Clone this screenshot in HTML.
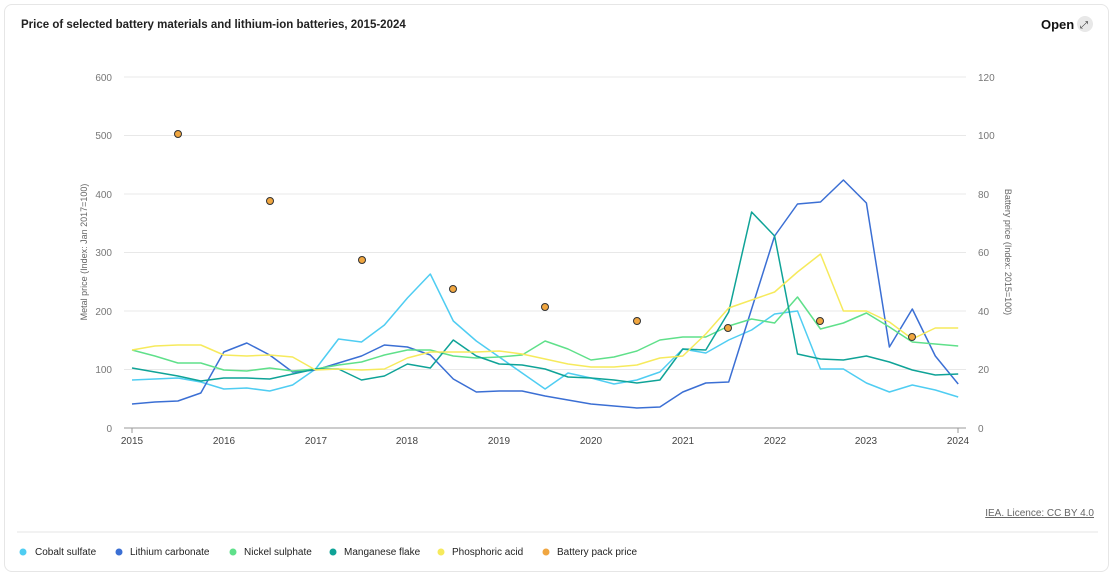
<!DOCTYPE html>
<html><head><style>
body{margin:0;background:#fff;font-family:"Liberation Sans",sans-serif;}
.card{position:absolute;left:4px;top:4px;width:1105px;height:568px;border:1px solid #e6e6e6;border-radius:8px;box-sizing:border-box;}
</style></head><body>
<div class="card"></div>
<svg width="1115" height="577" style="position:absolute;left:0;top:0" font-family="Liberation Sans, sans-serif">
<text x="21" y="28" font-size="11.5" fill="#222" font-weight="bold" style="font-weight:600">Price of selected battery materials and lithium-ion batteries, 2015-2024</text>
<text x="1041" y="29" font-size="13" font-weight="bold" fill="#111">Open</text>
<circle cx="1085" cy="24" r="8" fill="#e8e8e8"/><text x="1080" y="28" font-size="10" fill="#333">⤢</text>
<g stroke="#e8e8e8" stroke-width="1">
<line x1="124" x2="966" y1="77" y2="77"/><line x1="124" x2="966" y1="135.5" y2="135.5"/><line x1="124" x2="966" y1="194" y2="194"/><line x1="124" x2="966" y1="252.5" y2="252.5"/><line x1="124" x2="966" y1="311" y2="311"/><line x1="124" x2="966" y1="369.5" y2="369.5"/>
</g>
<line x1="124" x2="966" y1="428" y2="428" stroke="#999"/>
<g font-size="10" fill="#777" text-anchor="end">
<text x="112" y="81">600</text><text x="112" y="139">500</text><text x="112" y="198">400</text><text x="112" y="256">300</text><text x="112" y="315">200</text><text x="112" y="373">100</text><text x="112" y="432">0</text>
</g>
<g font-size="10" fill="#777">
<text x="978" y="81">120</text><text x="978" y="139">100</text><text x="978" y="198">80</text><text x="978" y="256">60</text><text x="978" y="315">40</text><text x="978" y="373">20</text><text x="978" y="432">0</text>
</g>
<g font-size="10" fill="#444" text-anchor="middle">
<text x="132" y="444">2015</text><text x="224" y="444">2016</text><text x="316" y="444">2017</text><text x="407" y="444">2018</text><text x="499" y="444">2019</text><text x="591" y="444">2020</text><text x="683" y="444">2021</text><text x="775" y="444">2022</text><text x="866" y="444">2023</text><text x="958" y="444">2024</text>
</g>
<g stroke="#999"><line x1="132" x2="132" y1="428" y2="433"/><line x1="958" x2="958" y1="428" y2="433"/></g>
<text transform="translate(87,252) rotate(-90)" font-size="9" fill="#666" text-anchor="middle">Metal price (Index: Jan 2017=100)</text>
<text transform="translate(1005,252) rotate(90)" font-size="9" fill="#666" text-anchor="middle">Battery price (Index: 2015=100)</text>
<g fill="none" stroke-width="1.5" stroke-linejoin="round">
<polyline id="co" stroke="#4fcdf2" points=""/>
<polyline id="li" stroke="#3b6fd4" points=""/>
<polyline id="ni" stroke="#5fe08a" points=""/>
<polyline id="mn" stroke="#0fa397" points=""/>
<polyline id="ph" stroke="#f6ea5c" points=""/>
</g>
<g fill="#f0a640" stroke="#333" stroke-width="1">
<circle cx="178" cy="134" r="3.5"/><circle cx="270" cy="201" r="3.5"/><circle cx="362" cy="260" r="3.5"/><circle cx="453" cy="289" r="3.5"/><circle cx="545" cy="307" r="3.5"/><circle cx="637" cy="321" r="3.5"/><circle cx="728" cy="328" r="3.5"/><circle cx="820" cy="321" r="3.5"/><circle cx="912" cy="337" r="3.5"/>
</g>
<text x="1094" y="516" font-size="10" fill="#666" text-anchor="end" text-decoration="underline">IEA. Licence: CC BY 4.0</text>
<line x1="17" x2="1098" y1="532" y2="532" stroke="#e6e6e6"/>
<g font-size="10" fill="#222">
<circle cx="23" cy="552" r="3.5" fill="#4fcdf2"/><text x="35" y="555">Cobalt sulfate</text>
<circle cx="119" cy="552" r="3.5" fill="#3b6fd4"/><text x="130" y="555">Lithium carbonate</text>
<circle cx="233" cy="552" r="3.5" fill="#5fe08a"/><text x="244" y="555">Nickel sulphate</text>
<circle cx="333" cy="552" r="3.5" fill="#0fa397"/><text x="344" y="555">Manganese flake</text>
<circle cx="441" cy="552" r="3.5" fill="#f6ea5c"/><text x="452" y="555">Phosphoric acid</text>
<circle cx="546" cy="552" r="3.5" fill="#f0a640"/><text x="557" y="555">Battery pack price</text>
</g>
</svg>
<script>
var d={co:[380,379,378,382,389,388,391,385,369,339,342,325,298,274,321,341,357,373,389,373,378,384,380,372,349,353,340,330,314,311,369,369,383,392,385,390,397],
li:[404,402,401,393,352,343,355,372,370,363,356,345,347,355,379,392,391,391,396,400,404,406,408,407,392,383,382,309,236,204,202,180,203,347,309,356,384],
ni:[350,356,363,363,370,371,368,371,369,365,362,355,350,350,356,358,357,355,341,349,360,357,351,340,337,337,326,319,323,297,329,323,313,327,342,344,346],
mn:[368,372,376,381,378,378,379,374,369,369,380,376,364,368,340,356,364,365,369,377,378,380,383,380,349,350,312,212,236,354,359,360,356,362,370,375,374],
ph:[350,346,345,345,355,356,355,357,370,369,370,369,358,352,352,352,351,354,359,364,367,367,365,358,356,334,308,300,292,272,254,311,311,322,339,328,328]};
for(var k in d){document.getElementById(k).setAttribute('points',d[k].map(function(y,i){return (132+22.95*i).toFixed(1)+','+y}).join(' '));}
</script>
</body></html>
